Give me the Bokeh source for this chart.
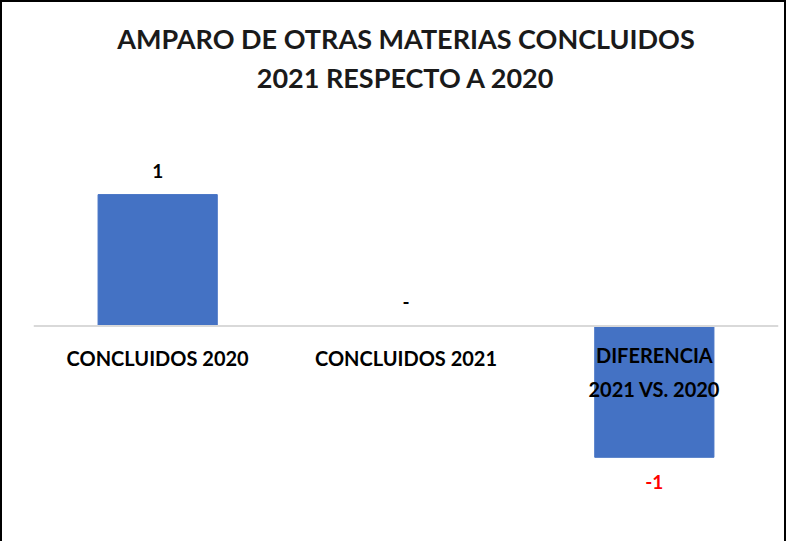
from bokeh.plotting import figure
from bokeh.models import ColumnDataSource, Span, Range1d, Title
from bokeh.embed import file_html
from bokeh.resources import INLINE
from bokeh.core.properties import value

categories = ["CONCLUIDOS 2020", "CONCLUIDOS 2021", "DIFERENCIA\n2021 VS. 2020"]
values = [1, 0, -1]
title_lines = ["AMPARO DE OTRAS MATERIAS CONCLUIDOS", "2021 RESPECTO A 2020"]

xs = [i + 0.5 for i in range(len(categories))]
labels = ["-" if v == 0 else str(v) for v in values]
label_colors = ["#FF0000" if v < 0 else "#000000" for v in values]
label_offsets = [25 if v < 0 else -24 for v in values]

src = ColumnDataSource(dict(x=xs, top=values, lab=labels, col=label_colors,
                            off=label_offsets, cat=categories,
                            caty=[-0.35 if "\n" in c else -0.245 for c in categories]))

p = figure(width=786, height=541, output_backend="svg", toolbar_location=None,
           x_range=Range1d(0, 3), y_range=Range1d(-1.504, 1.473),
           min_border_left=31, min_border_right=10, min_border_top=130,
           min_border_bottom=20,
           styles={"border-left": "2px solid black", "border-top": "2px solid black",
                   "border-right": "2px solid black"})
p.axis.visible = False
p.xgrid.visible = False
p.ygrid.visible = False
p.outline_line_color = None

p.vbar(x="x", top="top", bottom=0, width=0.48, source=src, color="#4472C4")
p.add_layout(Span(location=0, dimension="width", line_color="#D9D9D9", line_width=2))

p.text(x="x", y="top", text="lab", source=src, text_color="col", y_offset="off",
       text_align="center", text_baseline="middle", text_font=value("Lato"),
       text_font_style="bold", text_font_size="19px")
p.text(x="x", y="caty", text="cat", source=src, text_color="#000000",
       text_align="center", text_baseline="middle", text_font=value("Lato"),
       text_font_style="bold", text_font_size="20px", text_line_height=1.4)

# spacer between the title block and the plot frame
p.add_layout(Title(text=" ", text_font_size="22px"), "above")
for line in reversed(title_lines):
    p.add_layout(Title(text=line, align="center", text_font="Lato",
                       text_font_style="bold", text_font_size="27px",
                       text_color="#1A1A1A", standoff=4), "above")
p.title.visible = False

open("out.html", "w").write(file_html(p, INLINE))
